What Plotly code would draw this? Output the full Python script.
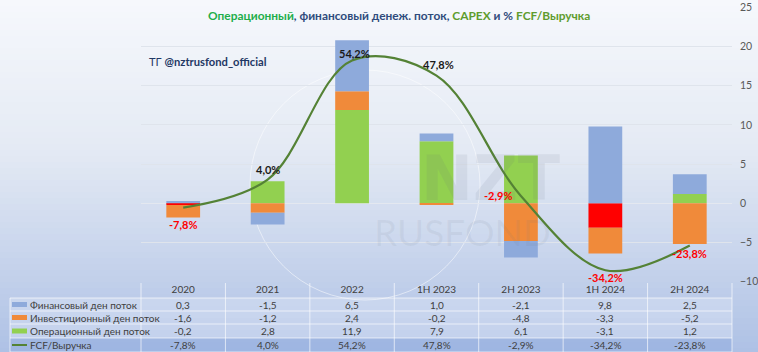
import plotly.graph_objects as go

# ---------------- data ----------------
categories = ["2020", "2021", "2022", "1H 2023", "2H 2023", "1H 2024", "2H 2024"]
fin_flow = [0.3, -1.5, 6.5, 1.0, -2.1, 9.8, 2.5]
inv_flow = [-1.6, -1.2, 2.4, -0.2, -4.8, -3.3, -5.2]
op_flow = [-0.2, 2.8, 11.9, 7.9, 6.1, -3.1, 1.2]
fcf_rev = [-7.8, 4.0, 54.2, 47.8, -2.9, -34.2, -23.8]
row_names = ["Финансовый ден поток", "Инвестиционный ден поток",
             "Операционный ден поток", "FCF/Выручка"]
y_ticks = [-10, -5, 0, 5, 10, 15, 20, 25]

# ---------------- style ----------------
W, H = 758, 352
L, R, T, B = 141, 26, 7, 70
PW, PH = W - L - R, H - T - B
FONT = "Lato"
C_FIN, C_INV, C_OP, C_OPNEG, C_LINE = "#8eaadb", "#f08a3a", "#92d050", "#ff0000", "#548235"
TXT = "#404040"


def px2x(px):
    return (px - L) / PW


def py2y(py):
    return (H - B - py) / PH


def fmt(v, pct=False):
    s = f"{v:.1f}".replace(".", ",")
    return s + ("%" if pct else "")


fig = go.Figure()
fig.add_trace(go.Bar(x=categories, y=op_flow, name=row_names[2],
                     marker=dict(color=[C_OP if v >= 0 else C_OPNEG for v in op_flow], line_width=0),
                     width=0.4))
fig.add_trace(go.Bar(x=categories, y=inv_flow, name=row_names[1],
                     marker=dict(color=C_INV, line_width=0), width=0.4))
fig.add_trace(go.Bar(x=categories, y=fin_flow, name=row_names[0],
                     marker=dict(color=C_FIN, line_width=0), width=0.4))
fig.add_trace(go.Scatter(x=categories, y=fcf_rev, name=row_names[3], yaxis="y2",
                         mode="lines",
                         line=dict(color=C_LINE, width=2.2, shape="spline", smoothing=1.0)))

shapes = []
# background gradient
stops = [(0, (246, 248, 252)), (150, (228, 234, 244)), (352, (174, 193, 229))]


def col_at(py):
    for (p0, c0), (p1, c1) in zip(stops[:-1], stops[1:]):
        if p0 <= py <= p1:
            t = (py - p0) / (p1 - p0)
            return tuple(int(round(a + (b - a) * t)) for a, b in zip(c0, c1))
    return stops[-1][1]


step = 6
for py in range(0, H, step):
    c = col_at(py + step / 2)
    shapes.append(dict(type="rect", xref="paper", yref="paper", layer="below",
                       x0=px2x(0), x1=px2x(W), y0=py2y(py + step + 0.5), y1=py2y(py),
                       fillcolor=f"rgb{c}", line_width=0))

# table
row_edges = [298, 311, 324, 338, 352]
col_edges = [10] + [L + i * PW / len(categories) for i in range(len(categories) + 1)]
row_fills = ["rgba(228,236,249,0.35)", "rgba(228,236,249,0.35)",
             "rgba(228,236,249,0.35)", "rgba(140,168,222,0.45)"]
for i in range(4):
    shapes.append(dict(type="rect", xref="paper", yref="paper", layer="below",
                       x0=px2x(10), x1=px2x(L + PW), y0=py2y(row_edges[i + 1]), y1=py2y(row_edges[i]),
                       fillcolor=row_fills[i], line_width=0))
grid_c = "rgba(255,255,255,0.65)"
for py in row_edges:
    shapes.append(dict(type="line", xref="paper", yref="paper", layer="above",
                       x0=px2x(10), x1=px2x(L + PW), y0=py2y(py), y1=py2y(py),
                       line=dict(color=grid_c, width=1)))
for j, px in enumerate(col_edges):
    top = 298 if j == 0 else 283
    shapes.append(dict(type="line", xref="paper", yref="paper", layer="above",
                       x0=px2x(px), x1=px2x(px), y0=py2y(top), y1=py2y(352),
                       line=dict(color=grid_c, width=1)))
# legend swatches
sw_colors = [C_FIN, C_INV, C_OP]
for i in range(3):
    yc = (row_edges[i] + row_edges[i + 1]) / 2
    shapes.append(dict(type="rect", xref="paper", yref="paper", layer="above",
                       x0=px2x(12), x1=px2x(27), y0=py2y(yc + 2.5), y1=py2y(yc - 2.5),
                       fillcolor=sw_colors[i], line_width=0))
yc = (row_edges[3] + row_edges[4]) / 2
shapes.append(dict(type="line", xref="paper", yref="paper", layer="above",
                   x0=px2x(12), x1=px2x(27), y0=py2y(yc), y1=py2y(yc),
                   line=dict(color=C_LINE, width=2)))
# faint watermark circle
shapes.append(dict(type="circle", xref="paper", yref="paper", layer="below",
                   x0=px2x(250), x1=px2x(480), y0=py2y(300), y1=py2y(70),
                   line=dict(color="rgba(255,255,255,0.5)", width=1)))

annotations = []
# watermark
annotations.append(dict(xref="paper", yref="paper", x=px2x(490), y=py2y(178), showarrow=False,
                        xanchor="center", yanchor="middle",
                        text="<b>NZT</b>", font=dict(family="DejaVu Sans", size=62,
                                                     color="rgba(95,105,125,0.10)")))
annotations.append(dict(xref="paper", yref="paper", x=px2x(462), y=py2y(231), showarrow=False,
                        xanchor="center", yanchor="middle",
                        text="RUSFOND", font=dict(family=FONT, size=37, color="rgba(110,120,140,0.09)")))

# title
title = ("<span style='color:#1fae4b'>Операционный</span>"
         "<span style='color:#2f4b7c'>, финансовый денеж. поток, </span>"
         "<span style='color:#5e9c2e'>CAPEX</span>"
         "<span style='color:#2f4b7c'> и % </span>"
         "<span style='color:#5e9c2e'>FCF/Выручка</span>")
annotations.append(dict(xref="paper", yref="paper", x=px2x(399), y=py2y(16), showarrow=False,
                        xanchor="center", yanchor="middle",
                        text="<b>" + title + "</b>", font=dict(family=FONT, size=11.9)))
annotations.append(dict(xref="paper", yref="paper", x=px2x(147), y=py2y(61), xanchor="left",
                        yanchor="middle",
                        showarrow=False, text="ТГ <b>@nztrusfond_official</b>",
                        font=dict(family=FONT, size=11.2, color="#1f3864")))

# FCF labels (x given as category index)
shifts = [(0, -17), (0, 10), (2, 7), (2, 11), (-7, 0), (0, -7), (0, -8)]
for i, (v, (dx, dy)) in enumerate(zip(fcf_rev, shifts)):
    a = dict(xref="x", yref="y2", x=i, y=v, text="<b>" + fmt(v, True) + "</b>", showarrow=False,
             xshift=dx, yshift=dy, yanchor="middle",
             font=dict(family=FONT, size=11, color="#ff0000" if v < 0 else "#1a1a1a"))
    a["xanchor"] = "right" if (v < 0 and dx < 0) else "center"
    annotations.append(a)

# table text
series_rows = [fin_flow, inv_flow, op_flow, fcf_rev]
for r, (name, vals) in enumerate(zip(row_names, series_rows)):
    yc = (row_edges[r] + row_edges[r + 1]) / 2
    annotations.append(dict(xref="paper", yref="paper", x=px2x(28), y=py2y(yc), xanchor="left",
                            yanchor="middle",
                            showarrow=False, text=name, font=dict(family=FONT, size=10, color=TXT)))
    for i, v in enumerate(vals):
        annotations.append(dict(xref="x", yref="paper", x=i, y=py2y(yc), showarrow=False,
                                xanchor="center", yanchor="middle",
                                text=fmt(v, r == 3), font=dict(family=FONT, size=10, color=TXT)))

fig.update_layout(
    width=W, height=H, margin=dict(l=L, r=R, t=T, b=B, autoexpand=False),
    paper_bgcolor="#e6ebf4", plot_bgcolor="rgba(0,0,0,0)",
    barmode="relative", bargap=0.6, showlegend=False,
    font=dict(family=FONT, color=TXT),
    shapes=shapes, annotations=annotations,
    xaxis=dict(type="category", categoryorder="array", categoryarray=categories,
               range=[-0.5, len(categories) - 0.5], autorange=False, automargin=False,
               showgrid=False, zeroline=False, showline=False, ticks="",
               tickfont=dict(family=FONT, size=10, color=TXT), fixedrange=True),
    yaxis=dict(side="right", range=[-10.03, 25.03], tickvals=y_ticks, showgrid=True,
               automargin=False,
               gridcolor="#dfe4ec", gridwidth=1, zeroline=True, zerolinecolor="#e4e8f0",
               zerolinewidth=1, showline=False, ticks="", ticklabelstandoff=7,
               tickfont=dict(family=FONT, size=10.5, color="#595959")),
    yaxis2=dict(overlaying="y", range=[-39.15, 76.7], visible=False, automargin=False),
)

fig.write_html("out.html")
